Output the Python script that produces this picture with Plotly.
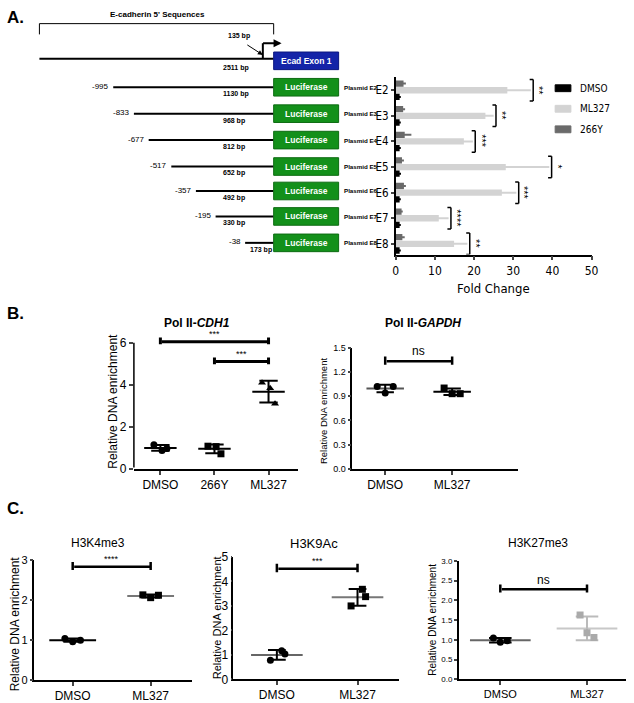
import plotly.graph_objects as go
import numpy as np

W, H = 634, 703
FONT = "Liberation Sans, Arial, sans-serif"
NARROW = "Liberation Sans Narrow, Arial Narrow, DejaVu Sans Condensed, sans-serif"

# ---------------- Panel A data ----------------
plasmids = ["E2", "E3", "E4", "E5", "E6", "E7", "E8"]
start_pos = [-995, -833, -677, -517, -357, -195, -38]
frag_bp = [1130, 968, 812, 652, 492, 330, 173]
full_bp = 2511
tss_bp = 135
dmso_fc = [1.0, 1.0, 1.0, 1.0, 1.0, 1.0, 1.0]
dmso_fc_err = [0.3, 0.3, 0.3, 0.35, 0.3, 0.3, 0.3]
ml327_fc = [28.5, 22.9, 17.4, 28.1, 27.1, 11.0, 14.9]
ml327_fc_err = [6.0, 2.1, 2.3, 11.1, 3.7, 2.5, 3.4]
y266_fc = [2.0, 1.9, 2.3, 1.6, 2.1, 1.5, 1.7]
y266_fc_err = [0.6, 0.5, 1.7, 0.5, 0.5, 0.3, 0.6]
sig_A = ["**", "**", "***", "*", "***", "****", "**"]
fold_ticks = [0, 10, 20, 30, 40, 50]

# ---------------- Panel B data ----------------
cdh1_groups = ["DMSO", "266Y", "ML327"]
cdh1_dmso = [1.15, 0.88, 0.97]
cdh1_266y = [1.08, 1.06, 0.72]
cdh1_ml327 = [4.09, 3.83, 3.10]
cdh1_ticks = [0, 2, 4, 6]

gapdh_groups = ["DMSO", "ML327"]
gapdh_dmso = [1.02, 1.02, 0.94]
gapdh_ml327 = [1.00, 0.93, 0.93]
gapdh_ticks = [0.0, 0.3, 0.6, 0.9, 1.2, 1.5]

# ---------------- Panel C data ----------------
c_groups = ["DMSO", "ML327"]
k4_dmso = [1.04, 0.96, 1.00]
k4_ml327 = [2.13, 2.06, 2.12]
k4_ticks = [0, 1, 2, 3]
k9_dmso = [1.17, 1.04, 0.78]
k9_ml327 = [3.68, 3.38, 3.00]
k9_ticks = [0, 1, 2, 3, 4, 5]
k27_dmso = [1.05, 0.94, 0.98]
k27_ml327 = [1.63, 1.18, 1.06]
k27_ticks = [0.0, 0.5, 1.0, 1.5, 2.0, 2.5, 3.0]

# ---------------- schematic layout (pixels) ----------------
row_y = [82, 109, 136, 163, 188, 214, 241]
line_x0 = [112, 133, 148, 171, 196, 216, 246]
bp_label_x = [237, 235, 235, 235, 235, 235, 262]

fig = go.Figure()
shapes = []
annos = []
layout_axes = {}


def PX(x):
    return x / W


def PY(y):
    return 1 - y / H


def seg(x0, y0, x1, y1, w=2, color="black"):
    shapes.append(dict(type="line", xref="paper", yref="paper",
                       x0=PX(x0), y0=PY(y0), x1=PX(x1), y1=PY(y1),
                       line=dict(color=color, width=w)))


def box(x0, y0, x1, y1, fill, edge):
    shapes.append(dict(type="rect", xref="paper", yref="paper",
                       x0=PX(x0), y0=PY(y0), x1=PX(x1), y1=PY(y1),
                       fillcolor=fill, line=dict(color=edge, width=1)))


def label(x, y, s, size, color="black", family=FONT, xanchor="center",
          bold=False, angle=0):
    if bold:
        s = "<b>" + s + "</b>"
    annos.append(dict(xref="paper", yref="paper", x=PX(x), y=PY(y), text=s,
                      showarrow=False, textangle=angle,
                      font=dict(family=family, size=size, color=color),
                      xanchor=xanchor, yanchor="middle"))


def data_line(xa, ya, x0, y0, x1, y1, w, color="black"):
    # unclipped straight line between two data points (annotation arrow without head)
    annos.append(dict(xref=xa, yref=ya, axref=xa, ayref=ya, x=x1, y=y1, ax=x0, ay=y0,
                      text="", showarrow=True, arrowhead=0, arrowwidth=w,
                      arrowcolor=color, standoff=0, startstandoff=0))


# ---------------- Panel A schematic ----------------
label(2, 11, "A.", 17, bold=True, xanchor="left")
label(157, 8, "E-cadherin 5' Sequences", 8, bold=True)
seg(37, 28, 37, 17, 1)
seg(37, 17, 275, 17, 1)
seg(275, 17, 275, 28, 1)
label(240, 30, f"{tss_bp} bp", 7, bold=True)
annos.append(dict(xref="paper", yref="paper", x=PX(264), y=PY(49), ax=-17, ay=-11,
                  text="", showarrow=True, arrowhead=2, arrowsize=1, arrowwidth=1,
                  arrowcolor="black"))
seg(264, 53, 264, 37, 2)
annos.append(dict(xref="paper", yref="paper", x=PX(283), y=PY(37), ax=-20, ay=0,
                  text="", showarrow=True, arrowhead=2, arrowsize=0.8, arrowwidth=2,
                  arrowcolor="black"))
seg(37, 53, 275, 53, 2)
box(275, 46, 341, 64, "#1424a8", "#0c1780")
label(308, 55, "Ecad Exon 1", 8.5, color="white", bold=True)
label(237, 62, f"{full_bp} bp", 7, bold=True)

for i, p in enumerate(plasmids):
    y = row_y[i]
    seg(line_x0[i], y, 275, y, 2)
    label(line_x0[i] - 2, y - 1, str(start_pos[i]), 8, xanchor="right")
    label(bp_label_x[i], y + 7, f"{frag_bp[i]} bp", 7, bold=True)
    box(275, y - 9, 341, y + 9, "#13901a", "#0d6b12")
    label(308, y, "Luciferase", 8.5, color="white", bold=True)
    label(344, y, f"Plasmid {p}", 6.2, bold=True, xanchor="left")

# ---------------- Panel A bar chart ----------------
bar_specs = [
    ("266Y", y266_fc, y266_fc_err, "#6a6a6a"),
    ("ML327", ml327_fc, ml327_fc_err, "#d3d3d3"),
    ("DMSO", dmso_fc, dmso_fc_err, "#000000"),
]
for name, vals, err, col in bar_specs:
    fig.add_trace(go.Bar(y=plasmids, x=vals, orientation="h", name=name,
                         marker=dict(color=col, line=dict(width=0)),
                         error_x=dict(type="data", array=err, color=col,
                                      thickness=2, width=0),
                         xaxis="x", yaxis="y", showlegend=False, hoverinfo="skip"))

for i, p in enumerate(plasmids):
    bx = ml327_fc[i] + ml327_fc_err[i] + 0.6
    for (a0, a1, b0, b1) in [(bx, bx, i - 0.42, i + 0.42),
                             (bx - 0.9, bx, i - 0.42, i - 0.42),
                             (bx - 0.9, bx, i + 0.42, i + 0.42)]:
        shapes.append(dict(type="line", xref="x", yref="y", x0=a0, x1=a1, y0=b0, y1=b1,
                           line=dict(color="black", width=1.5)))
    annos.append(dict(xref="x", yref="y", x=bx, y=p, xshift=6, text=sig_A[i],
                      textangle=90, showarrow=False,
                      font=dict(family=FONT, size=11, color="black")))

legend_items = [("DMSO", "#000000", 83), ("ML327", "#d3d3d3", 104), ("266Y", "#6a6a6a", 125)]
for name, col, ly in legend_items:
    box(561, ly - 3.5, 577, ly + 3.5, col, col)
    label(584, ly, name, 10, family=NARROW, xanchor="left")

layout_axes["xaxis"] = dict(domain=[PX(399), PX(598)], range=[0, 50], tickvals=fold_ticks,
                            ticks="outside", ticklen=4, tickwidth=1.5, showline=True,
                            linewidth=1.5, linecolor="black", showgrid=False, zeroline=False,
                            tickfont=dict(family=NARROW, size=12, color="black"), anchor="y")
layout_axes["yaxis"] = dict(domain=[PY(253), PY(72)], range=[6.42, -0.5], type="category",
                            categoryorder="array", categoryarray=plasmids,
                            ticks="outside", ticklen=3, tickwidth=1.5, showline=True,
                            linewidth=1.5, linecolor="black", showgrid=False, zeroline=False,
                            tickfont=dict(family=NARROW, size=11.5, color="black"), anchor="x")
label(498, 288, "Fold Change", 13, family=NARROW)


# ---------------- dot-plot panels ----------------
def panel(n, groups, series, symbols, pt_colors, mean_colors, sd_colors, xdom, ydom,
          xr, yr, yticks, yfmt, ytick_size, xtick_size, jitter, sigs,
          msize=7, hw_mean=0.3, hw_sd=0.13, ytop_ext=0.0, yticklen=4):
    xa, ya = f"x{n}", f"y{n}"
    for i, vals in enumerate(series):
        m = float(np.mean(vals))
        s = float(np.std(vals, ddof=1))
        fig.add_trace(go.Scatter(x=[i - hw_mean, i + hw_mean], y=[m, m], mode="lines",
                                 line=dict(color=mean_colors[i], width=2),
                                 xaxis=xa, yaxis=ya, showlegend=False, hoverinfo="skip",
                                 cliponaxis=False))
        fig.add_trace(go.Scatter(x=[i, i, None, i - hw_sd, i + hw_sd, None, i - hw_sd, i + hw_sd],
                                 y=[m - s, m + s, None, m + s, m + s, None, m - s, m - s],
                                 mode="lines", line=dict(color=sd_colors[i], width=2),
                                 xaxis=xa, yaxis=ya, showlegend=False, hoverinfo="skip",
                                 cliponaxis=False))
        fig.add_trace(go.Scatter(x=[i + j for j in jitter[:len(vals)]], y=vals, mode="markers",
                                 marker=dict(symbol=symbols[i], size=msize, color=pt_colors[i]),
                                 xaxis=xa, yaxis=ya, showlegend=False, hoverinfo="skip",
                                 cliponaxis=False))
    for (i0, i1, h, d, txt, tsize, lw, tshift) in sigs:
        data_line(xa, ya, i0, h, i1, h, lw)
        data_line(xa, ya, i0, h - d, i0, h + d, lw)
        data_line(xa, ya, i1, h - d, i1, h + d, lw)
        annos.append(dict(xref=xa, yref=ya, x=(i0 + i1) / 2, y=h, yshift=tshift, text=txt,
                          showarrow=False, yanchor="middle",
                          font=dict(family=FONT, size=tsize, color="black")))
    # extend the value range upward (for brackets) while keeping the drawn axis to yr
    px_per_unit = (ydom[1] - ydom[0]) / (yr[1] - yr[0])
    top_px = ydom[0] - ytop_ext * px_per_unit
    yrange = [yr[0], yr[1] + ytop_ext]
    show_yline = ytop_ext == 0
    if not show_yline:
        data_line(xa, ya, xr[0], yr[0], xr[0], yr[1], 1.5)
    layout_axes[f"xaxis{n}"] = dict(domain=[PX(xdom[0]), PX(xdom[1])], range=xr,
                                    tickvals=list(range(len(groups))), ticktext=groups,
                                    ticks="outside", ticklen=4, tickwidth=1.5, showline=True,
                                    linewidth=1.5, linecolor="black", showgrid=False,
                                    zeroline=False,
                                    tickfont=dict(family=FONT, size=xtick_size, color="black"),
                                    anchor=ya)
    layout_axes[f"yaxis{n}"] = dict(domain=[PY(ydom[1]), PY(top_px)], range=yrange,
                                    tickvals=yticks, tickformat=yfmt,
                                    ticks="outside", ticklen=yticklen, tickwidth=1.5,
                                    showline=show_yline,
                                    linewidth=1.5, linecolor="black", showgrid=False,
                                    zeroline=False,
                                    tickfont=dict(family=FONT, size=ytick_size, color="black"),
                                    anchor=xa)


# B1: Pol II-CDH1
label(2, 313, "B.", 17, bold=True, xanchor="left")
panel(2, cdh1_groups, [cdh1_dmso, cdh1_266y, cdh1_ml327],
      ["circle", "square", "triangle-up"], ["black"] * 3, ["black"] * 3, ["black"] * 3,
      (133, 300), (343, 472), [-0.49, 2.55], [0, 6], cdh1_ticks, "d", 12, 12,
      [-0.12, 0.03, 0.12],
      [(0, 2, 6.05, 0.2, "***", 9, 3, 8), (1, 2, 5.1, 0.2, "***", 9, 3, 8)],
      hw_mean=0.3, hw_sd=0.17, ytop_ext=0.5)
label(197, 323, "Pol II-<i>CDH1</i>", 12, bold=True)
label(112, 403, "Relative DNA enrichment", 12, angle=-90)

# B2: Pol II-GAPDH
panel(3, gapdh_groups, [gapdh_dmso, gapdh_ml327],
      ["circle", "square"], ["black", "black"], ["#555555", "black"], ["black", "black"],
      (355, 523), (348, 472), [-0.49, 1.98], [0, 1.5], gapdh_ticks, ".1f", 9, 12,
      [-0.12, 0.12, 0.0],
      [(0, 1, 1.33, 0.06, "ns", 12, 2.5, 10)],
      hw_mean=0.28, hw_sd=0.13, yticklen=3)
label(427, 323, "Pol II-<i>GAPDH</i>", 12, bold=True)
label(325, 413, "Relative DNA enrichment", 9.5, angle=-90)

# C panels
label(2, 512, "C.", 17, bold=True, xanchor="left")
panel(4, c_groups, [k4_dmso, k4_ml327],
      ["circle", "square"], ["black", "black"], ["black", "#777777"], ["black", "black"],
      (32, 192), (565, 688), [-0.49, 1.53], [0, 3], k4_ticks, "d", 11, 12,
      [-0.1, 0.0, 0.1],
      [(0, 1, 2.83, 0.12, "****", 9, 2.5, 8)],
      hw_mean=0.3, hw_sd=0.12, yticklen=3)
label(97, 548, "H3K4me3", 12)
label(12, 630, "Relative DNA enrichment", 12, angle=-90)

panel(5, c_groups, [k9_dmso, k9_ml327],
      ["circle", "square"], ["black", "black"], ["#666666", "#777777"], ["black", "black"],
      (234, 402), (562, 687), [-0.54, 1.51], [0, 5], k9_ticks, "d", 12, 12,
      [0.06, 0.1, -0.08],
      [(0, 1, 4.52, 0.2, "***", 9, 2.5, 8)],
      hw_mean=0.32, hw_sd=0.11, yticklen=1)
label(316, 548, "H3K9Ac", 13)
label(217, 624, "Relative DNA enrichment", 11, angle=-90)

panel(6, c_groups, [k27_dmso, k27_ml327],
      ["circle", "square"], ["black", "#aaaaaa"], ["#666666", "#c8c8c8"], ["black", "#bbbbbb"],
      (463, 633), (566, 687), [-0.48, 1.45], [0, 3], k27_ticks, ".1f", 8, 11,
      [-0.08, 0.0, 0.08],
      [(0, 1, 2.28, 0.12, "ns", 12, 2.5, 9)],
      hw_mean=0.35, hw_sd=0.13, yticklen=3)
label(544, 548, "H3K27me3", 12)
label(437, 626, "Relative DNA enrichment", 10, angle=-90)

fig.update_layout(width=W, height=H, margin=dict(l=0, r=0, t=0, b=0),
                  paper_bgcolor="white", plot_bgcolor="white", showlegend=False,
                  barmode="group", bargap=0.22, bargroupgap=0.05,
                  shapes=shapes, annotations=annos, font=dict(family=FONT, color="black"),
                  **layout_axes)

fig.write_html("out.html", config={"displayModeBar": False},
               post_script="document.body.style.margin='0px';")
